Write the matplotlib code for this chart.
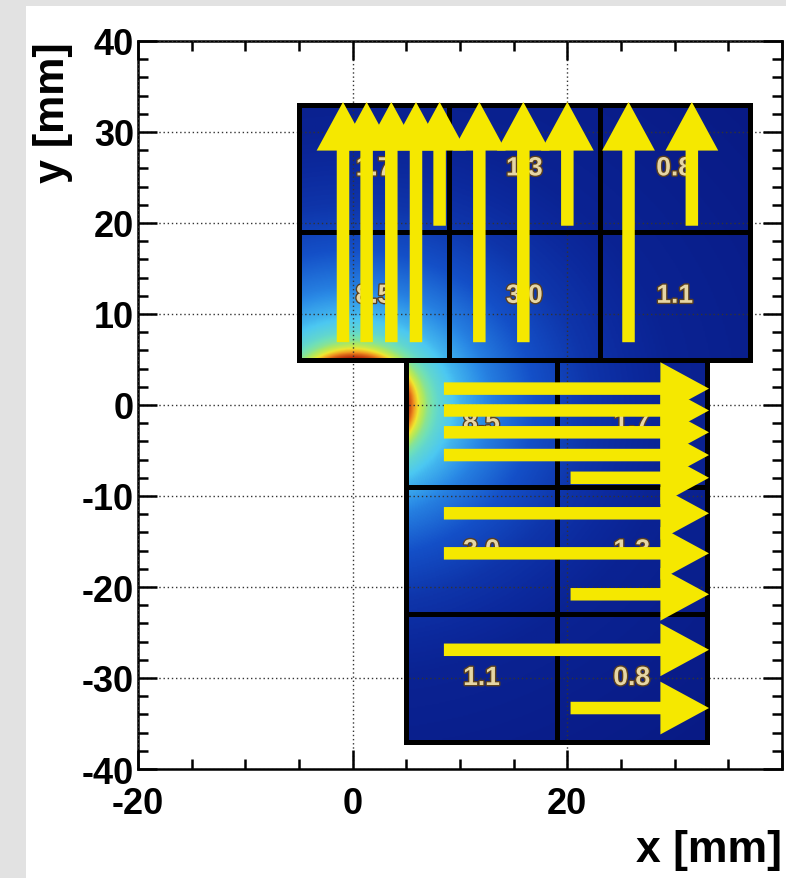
import numpy as np
import matplotlib
matplotlib.use('Agg')
import matplotlib.pyplot as plt
from matplotlib.patches import Rectangle
from matplotlib.colors import LinearSegmentedColormap
from matplotlib.ticker import MultipleLocator
import matplotlib.patheffects as pe

plt.rcParams['font.family'] = ['Liberation Sans', 'DejaVu Sans']
plt.rcParams['axes.unicode_minus'] = False

# crystal cells: lower-left corner (mm), size 14 mm, and the value printed in the cell
cell_size = 14
cell_x0 = [-5, 9, 23, -5, 9, 23, 5, 19, 5, 19, 5, 19]
cell_y0 = [19, 19, 19, 5, 5, 5, -9, -9, -23, -23, -37, -37]
cell_value = ['1.7', '1.3', '0.8', '8.5', '3.0', '1.1',
              '8.5', '1.7', '3.0', '1.3', '1.1', '0.8']

# two blocks of cells (xmin, xmax, ymin, ymax)
blocks = [(-5, 37, 5, 33), (5, 33, -37, 5)]

# beam spot: intensity level vs distance from the beam axis
beam_x, beam_y = 0.0, 0.0
beam_r = [5.0, 5.4, 5.8, 6.3, 7.0, 8.0, 10.0, 13.0, 17.0, 22.0, 30.0, 50.0]
beam_level = [1.0, 0.9, 0.78, 0.65, 0.54, 0.46, 0.37, 0.28, 0.2, 0.13, 0.07, 0.03]

# upward arrows (upper block)
up_x = [-0.9, 1.3, 3.6, 5.9, 8.1, 11.8, 15.9, 20.0, 25.7, 31.6]
up_y0 = [6.9, 6.9, 6.9, 6.9, 19.7, 6.9, 6.9, 19.7, 6.9, 19.7]
up_tip = 33.3

# rightward arrows (lower block)
right_y = [1.8, -0.6, -3.0, -5.5, -8.0, -11.9, -16.3, -20.8, -26.9, -33.3]
right_x0 = [8.5, 8.5, 8.5, 8.5, 20.3, 8.5, 8.5, 20.3, 8.5, 20.3]
right_tip = 33.2

cmap = LinearSegmentedColormap.from_list('root', [
    (0.0, '#07137a'), (0.1, '#0c2a9e'), (0.2, '#1450c8'), (0.3, '#2a8ae6'),
    (0.4, '#4cc8f2'), (0.5, '#70e0b8'), (0.6, '#aee860'), (0.7, '#f0e830'),
    (0.82, '#f09020'), (1.0, '#b01a08')])

fig = plt.figure(figsize=(7.86, 8.79), dpi=100)
fig.patch.set_facecolor('#e2e2e2')
fig.patches.append(Rectangle((26 / 786, 0), 1, 1 - 7 / 879, transform=fig.transFigure,
                             facecolor='white', edgecolor='none', zorder=-1))
ax = fig.add_axes([138 / 786, 109 / 879, 644 / 786, 728 / 879])

# heat map, one image per block
for (x0, x1, y0, y1) in blocks:
    gx = np.linspace(x0, x1, 300)
    gy = np.linspace(y0, y1, 300)
    X, Y = np.meshgrid(gx, gy)
    r = np.hypot(X - beam_x, Y - beam_y)
    level = np.interp(r, beam_r, beam_level)
    ax.imshow(level, cmap=cmap, vmin=0, vmax=1, origin='lower',
              extent=(x0, x1, y0, y1), interpolation='bilinear', aspect='auto', zorder=0.5)

# cell borders and values
for cx, cy, val in zip(cell_x0, cell_y0, cell_value):
    ax.add_patch(Rectangle((cx, cy), cell_size, cell_size, fill=False,
                           edgecolor='black', lw=3.6, zorder=2.6))
    ax.text(cx + cell_size / 2, cy + cell_size / 2, val, ha='center', va='center',
            fontsize=19, fontweight='bold', color='#e6d6a4', zorder=2.7,
            path_effects=[pe.withStroke(linewidth=2, foreground='#5a4020')])

yellow = '#f5e800'
style = 'simple,head_length=35,head_width=38,tail_width=9'
for x, y0 in zip(up_x, up_y0):
    ax.annotate('', xy=(x, up_tip), xytext=(x, y0),
                arrowprops=dict(arrowstyle=style, color=yellow, lw=0,
                                shrinkA=0, shrinkB=0, mutation_scale=1), zorder=4)
for y, x0 in zip(right_y, right_x0):
    ax.annotate('', xy=(right_tip, y), xytext=(x0, y),
                arrowprops=dict(arrowstyle=style, color=yellow, lw=0,
                                shrinkA=0, shrinkB=0, mutation_scale=1), zorder=4)

ax.set_xlim(-20, 40)
ax.set_ylim(-40, 40)
ax.set_xticks([-20, 0, 20, 40])
ax.set_xticklabels(['-20', '0', '20', ''])
ax.set_yticks(np.arange(-40, 41, 10))
ax.xaxis.set_minor_locator(MultipleLocator(5))
ax.yaxis.set_minor_locator(MultipleLocator(2))
ax.tick_params(which='both', direction='in', top=True, right=True, width=1.8,
               color='black')
ax.tick_params(which='major', length=14)
ax.tick_params(which='minor', length=7)
ax.tick_params(axis='x', pad=12, labelsize=26)
ax.tick_params(axis='y', pad=3, labelsize=26)
for lab in ax.get_xticklabels() + ax.get_yticklabels():
    lab.set_fontweight('bold')
for sp in ax.spines.values():
    sp.set_linewidth(1.8)

ax.set_axisbelow(False)
ax.grid(True, which='major', color='#333333', linestyle=(0, (1, 2)), lw=1.0)

ax.set_xlabel('x [mm]', loc='right', fontsize=32, fontweight='bold', labelpad=6)
ax.set_ylabel('y [mm]', loc='top', fontsize=31, fontweight='bold', labelpad=6)

plt.savefig('out.png', dpi=100, facecolor=fig.get_facecolor())
